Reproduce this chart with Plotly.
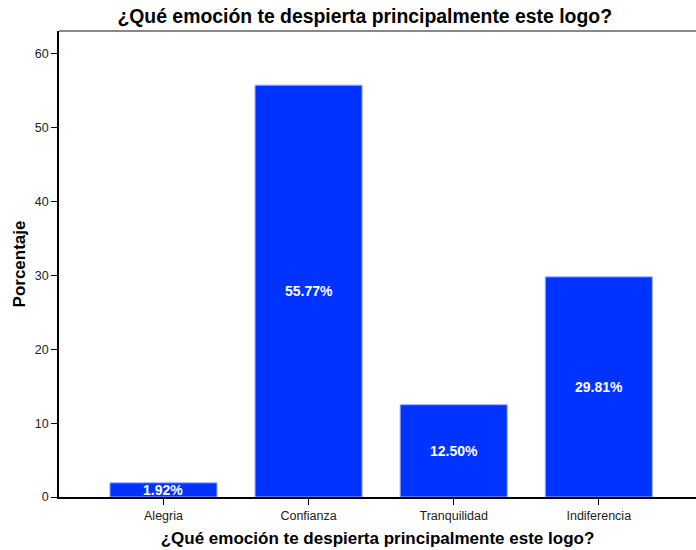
import plotly.graph_objects as go

categories = ["Alegria", "Confianza", "Tranquilidad", "Indiferencia"]
values = [1.92, 55.77, 12.50, 29.81]
labels = [f"{v:.2f}%" for v in values]
title_text = "¿Qué emoción te despierta principalmente este logo?"

fig = go.Figure(go.Bar(
    x=list(range(len(categories))), y=values,
    width=0.738,
    marker=dict(color="#0033FF", line=dict(color="#9db2ff", width=1)),
    hoverinfo="skip",
))

for i, (v, t) in enumerate(zip(values, labels)):
    fig.add_annotation(x=i, y=v / 2, text="<b>" + t + "</b>", showarrow=False,
                       font=dict(family="Liberation Sans, Arial", size=14, color="white"))

fig.add_shape(type="line", xref="paper", yref="paper", x0=0, x1=1, y0=1, y1=1,
              line=dict(color="#888888", width=2))

font_fam = "Liberation Sans, Arial"
fig.update_layout(
    width=696, height=550,
    margin=dict(l=59, r=0, t=31, b=53),
    paper_bgcolor="white", plot_bgcolor="white",
    showlegend=False,
    title=dict(text="<b>" + title_text + "</b>", x=0.524, xanchor="center",
               y=1 - 16 / 550, yanchor="middle",
               font=dict(family=font_fam, size=19.4, color="black")),
    xaxis=dict(
        tickmode="array", tickvals=list(range(len(categories))), ticktext=categories,
        range=[-0.72, 3.67], showgrid=False, zeroline=False,
        showline=True, linecolor="black", linewidth=1.5,
        ticks="outside", ticklen=6, tickcolor="black",
        tickfont=dict(family=font_fam, size=12.5, color="#222"),
        title=dict(text="<b>" + title_text + "</b>", standoff=10,
                   font=dict(family=font_fam, size=17, color="black")),
    ),
    yaxis=dict(
        range=[0, 63.1], tickvals=[0, 10, 20, 30, 40, 50, 60],
        showgrid=False, zeroline=False,
        showline=True, linecolor="black", linewidth=1.5,
        ticks="outside", ticklen=6, tickcolor="black",
        tickfont=dict(family=font_fam, size=12.5, color="#222"),
        title=dict(text="<b>Porcentaje</b>", standoff=5,
                   font=dict(family=font_fam, size=17, color="black")),
    ),
)

fig.write_html("out.html")
